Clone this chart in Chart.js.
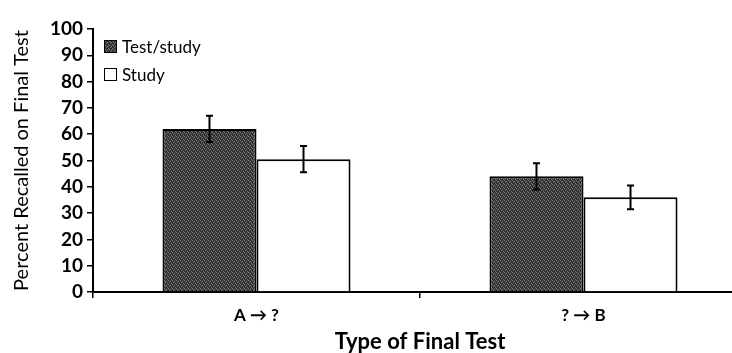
<!DOCTYPE html>
<html>
<head>
<meta charset="utf-8">
<script src="https://cdn.jsdelivr.net/npm/chart.js@4.4.0/dist/chart.umd.min.js"></script>
<style>
  html, body { margin: 0; padding: 0; background: #fff; overflow: hidden; }
  #wrap { position: relative; width: 732px; height: 353px; overflow: hidden; }
  #box { position: absolute; left: 0; top: 0; width: 747px; height: 353px; }
  #legend { position: absolute; left: 104px; top: 32px; font-family: Lato, sans-serif; font-size: 17px; color: #000; }
  #legend div { display: flex; align-items: center; height: 28px; }
  #legend span.sw { display: inline-block; width: 11px; height: 11px; border: 1.5px solid #000; margin-right: 5px; box-sizing: content-box; }
</style>
</head>
<body>
<div id="wrap">
  <div id="box"><canvas id="chart"></canvas></div>
  <div id="legend">
    <div><span class="sw" id="sw1"></span>Test/study</div>
    <div><span class="sw" style="background:#fff"></span>Study</div>
  </div>
</div>
<script>
let categories = ["A \u2192 ?", "? \u2192 B"];
let testStudy = [62, 44];
let testStudyErr = [5, 5];
let study = [50.5, 36];
let studyErr = [5, 4.5];
let yTicks = [0, 10, 20, 30, 40, 50, 60, 70, 80, 90, 100];

// dark stipple texture for the test/study bars
function makePattern(){
  const c = document.createElement("canvas");
  c.width = 4; c.height = 4;
  const g = c.getContext("2d");
  g.fillStyle = "#383838";
  g.fillRect(0, 0, 4, 4);
  g.fillStyle = "#7a7a7a";
  g.fillRect(0, 0, 1, 1); g.fillRect(2, 1, 1, 1);
  g.fillRect(1, 2, 1, 1); g.fillRect(3, 3, 1, 1);
  g.fillStyle = "#1e1e1e";
  g.fillRect(2, 3, 1, 1); g.fillRect(0, 2, 1, 1);
  return c;
}
const patCanvas = makePattern();
document.getElementById("sw1").style.background = "url(" + patCanvas.toDataURL() + ")";

const errorBars = {
  id: "errorBars",
  afterDatasetsDraw(chart){
    const ctx = chart.ctx;
    const y = chart.scales.y;
    const errs = [testStudyErr, studyErr];
    ctx.save();
    ctx.strokeStyle = "#000";
    ctx.lineWidth = 2;
    chart.data.datasets.forEach((ds, i) => {
      chart.getDatasetMeta(i).data.forEach((bar, j) => {
        const v = ds.data[j];
        const top = y.getPixelForValue(v + errs[i][j]);
        const bot = y.getPixelForValue(v - errs[i][j]);
        ctx.beginPath();
        ctx.moveTo(bar.x, top); ctx.lineTo(bar.x, bot);
        ctx.moveTo(bar.x - 3.5, top); ctx.lineTo(bar.x + 3.5, top);
        ctx.moveTo(bar.x - 3.5, bot); ctx.lineTo(bar.x + 3.5, bot);
        ctx.stroke();
      });
    });
    ctx.restore();
  }
};

const ctx = document.getElementById("chart").getContext("2d");
const pattern = ctx.createPattern(patCanvas, "repeat");

new Chart(ctx, {
  type: "bar",
  data: {
    labels: categories,
    datasets: [{
      label: "Test/study",
      data: testStudy,
      backgroundColor: pattern,
      borderColor: "#000",
      borderWidth: 2
    }, {
      label: "Study",
      data: study,
      backgroundColor: "#fff",
      borderColor: "#000",
      borderWidth: 2
    }]
  },
  options: {
    responsive: true,
    maintainAspectRatio: false,
    animation: false,
    layout: { padding: { top: 29, right: 0, left: 0, bottom: 0 } },
    datasets: { bar: { categoryPercentage: 0.575, barPercentage: 1 } },
    plugins: { legend: { display: false }, tooltip: { enabled: false } },
    scales: {
      x: {
        grid: { drawOnChartArea: false, color: "#000", lineWidth: 1.5, tickLength: 6, offset: true },
        border: { color: "#000", width: 2 },
        ticks: { color: "#000", font: { family: "Lato", size: 17, weight: "bold" }, padding: 7 },
        title: { display: true, text: "Type of Final Test", color: "#000", font: { family: "Lato", size: 22, weight: "bold", lineHeight: 1 }, padding: { top: 0, bottom: 0 } },
        afterFit(s){ s.height = 61; }
      },
      y: {
        min: 0, max: 100,
        afterBuildTicks(s){ s.ticks = yTicks.map(v => ({ value: v })); },
        grid: { drawOnChartArea: false, color: "#000", lineWidth: 1.5, tickLength: 6 },
        border: { color: "#000", width: 2 },
        ticks: { color: "#000", font: { family: "Lato", size: 19, weight: "bold" }, padding: 4, autoSkip: false },
        title: { display: true, text: "Percent Recalled on Final Test", color: "#000", font: { family: "Lato", size: 20, lineHeight: 1 }, padding: { top: 12, bottom: 0 } },
        afterFit(s){ s.width = 93; }
      }
    }
  },
  plugins: [errorBars]
});
</script>
</body>
</html>
